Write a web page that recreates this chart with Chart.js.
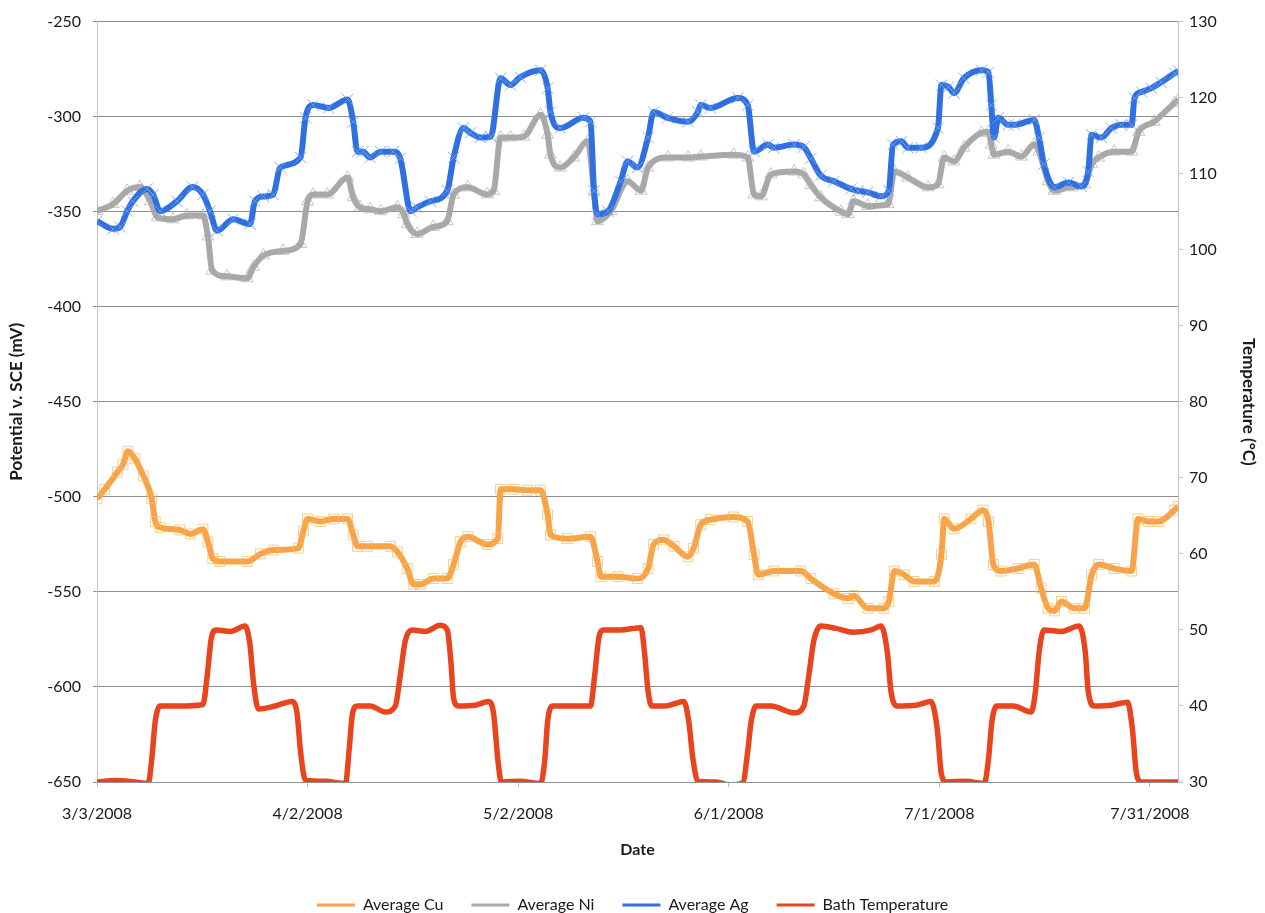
<!DOCTYPE html>
<html>
<head>
<meta charset="utf-8">
<script src="https://cdn.jsdelivr.net/npm/chart.js@4.4.1/dist/chart.umd.min.js"></script>
<style>
html,body{margin:0;padding:0;background:#fff;}
#wrap{width:1265px;height:913px;}
</style>
</head>
<body>
<div id="wrap"><canvas id="c" width="1265" height="913"></canvas></div>
<script>
// X axis tick labels (every 30 days from 3/3/2008)
const xTickLabels = ["3/3/2008","4/2/2008","5/2/2008","6/1/2008","7/1/2008","7/31/2008"];
const xTickDays = [0,30,60,90,120,150];

// Average Cu (mV) — day offsets from 3/3/2008
const cuDays = [0.0,1.1,2.9,3.7,4.4,5.4,6.6,7.8,8.3,9.0,11.8,13.3,15.1,15.8,16.5,17.5,21.4,23.3,25.1,28.7,29.4,30.0,31.8,33.7,35.7,36.5,37.1,38.5,41.8,42.8,44.2,45.1,46.1,47.9,49.9,50.8,51.8,52.8,55.6,57.1,57.5,59.3,61.3,63.2,64.2,64.6,67.0,70.3,71.3,71.8,74.2,77.0,78.5,79.3,80.7,82.2,84.2,85.0,86.0,87.4,90.7,92.7,93.6,94.2,96.4,100.3,101.7,105.0,107.0,107.8,109.8,112.1,112.8,113.6,115.0,116.4,119.3,120.3,120.7,122.1,124.5,126.2,127.0,127.7,128.8,131.2,133.5,134.5,135.5,136.4,137.4,139.2,140.7,141.7,142.7,144.9,147.4,148.3,149.8,151.2,153.5,154.1];
const cuValues = [-501,-496,-487,-483,-476,-480,-489,-501,-513,-516,-517.4,-519.5,-517,-523.6,-532.5,-534,-534,-530,-528,-527,-518,-511.6,-513,-511.6,-511.6,-520,-526,-526,-526,-529,-537.7,-546,-546,-543,-543,-535.6,-523.6,-521,-525,-522,-496,-496,-496.5,-496.5,-509.5,-520,-522,-521,-534,-542,-542,-543,-537.7,-525,-522.6,-526,-531.5,-527,-514.7,-512,-510.6,-513,-530.4,-541,-539,-539,-543,-551,-553.4,-552,-558.6,-558.6,-555,-539,-541,-544.5,-544.5,-530.4,-511.6,-516.8,-511.6,-507,-513,-535.6,-539,-537.7,-535.6,-548,-558.6,-560,-555,-558.6,-558.6,-541,-535.6,-537.7,-539,-511.6,-513,-513,-507,-505];

// Average Ni (mV)
const niDays = [0.0,2.3,4.3,6.1,7.6,8.6,10.8,12.8,15.1,15.8,16.4,18.5,21.4,22.3,23.7,26.5,29.0,30.0,30.8,32.8,35.7,36.5,37.5,38.9,40.4,42.8,43.7,44.2,45.6,47.9,49.9,50.8,52.8,55.6,56.5,57.5,58.9,60.8,63.2,64.2,64.6,66.0,67.9,69.9,70.8,71.3,73.2,75.6,77.5,78.5,81.3,84.2,86.0,90.7,92.7,93.6,94.6,96.0,99.3,100.7,101.7,103.1,106.0,107.0,107.8,109.8,112.7,113.6,115.5,118.4,119.8,120.7,122.1,123.5,126.0,127.0,127.4,127.8,129.8,131.7,133.5,134.2,135.5,136.4,138.4,140.7,141.7,142.7,144.9,147.4,148.4,150.6,153.5,154.1];
const niValues = [-349.7,-346,-339,-337,-344.5,-353,-354,-352,-352,-363,-381,-384,-385,-379,-373,-370.6,-367,-344.5,-341,-341,-332,-342.4,-347.7,-348.7,-349.7,-347.7,-351.3,-356.5,-361.7,-358,-355,-341,-337.2,-340.9,-339,-311,-311,-310.5,-299,-309.5,-320,-326.8,-321.5,-313,-339,-355,-349.7,-334,-339,-326.8,-321.5,-321.5,-321,-320,-321.5,-340.9,-341.9,-330.4,-328.9,-330.4,-336,-342.4,-350,-351.3,-344.5,-347,-346,-328.9,-332,-337.2,-335.6,-321.5,-323.6,-316.3,-308.5,-308,-314.7,-320,-318.4,-321,-314.7,-318.4,-334,-339,-337.2,-335.6,-325,-321.5,-318.4,-318.4,-308,-302.7,-292.8,-291];

// Average Ag (mV)
const agDays = [0.0,2.3,3.3,4.3,5.1,7.1,8.0,9.0,11.4,13.6,15.1,16.1,17.1,19.4,21.8,22.5,23.7,25.1,26.1,29.0,29.7,30.8,33.0,35.7,36.5,37.1,37.9,38.9,40.4,42.2,43.2,44.7,45.6,47.5,49.9,50.8,52.2,53.2,54.6,56.1,57.5,58.9,60.3,63.2,64.2,64.6,66.0,69.3,70.3,70.8,71.3,72.8,74.6,75.6,77.0,78.5,79.3,81.3,84.2,85.6,86.0,87.4,91.3,92.7,93.6,95.6,96.4,99.3,100.7,101.7,103.1,105.0,107.4,108.4,109.8,111.7,112.8,113.4,114.6,115.5,117.4,119.8,120.3,121.3,122.1,123.5,126.0,127.0,127.4,127.8,128.4,129.8,130.7,133.5,134.2,134.9,136.4,138.4,140.2,141.2,141.7,143.1,144.5,145.9,147.4,147.8,148.8,150.2,151.6,153.5,154.1];
const agValues = [-355,-359,-358,-349.7,-344.5,-338,-341,-349.7,-344.5,-337,-341,-349.7,-360,-354,-356.5,-344.5,-342,-341,-326.8,-321.5,-300.6,-293.9,-295.4,-291,-302.7,-318.4,-318.4,-321.5,-318.4,-318.4,-322,-349.7,-347.7,-344.5,-339,-321.5,-306,-308.5,-311,-310.5,-279.8,-283.4,-279.2,-275.6,-285,-297.5,-306,-300.6,-302.7,-339,-351.3,-349.7,-334,-323.6,-326.8,-311,-297.5,-300.6,-302.7,-297.5,-293.9,-295.4,-290.2,-293.9,-318.4,-314.7,-316.3,-314.7,-316,-322,-331,-334,-338,-339,-339.8,-341.9,-339,-314.7,-313,-316.3,-316.3,-306,-283.4,-284.4,-287.6,-279.8,-275.6,-276.6,-293.9,-311,-300.6,-304.3,-304.3,-301.7,-311,-325,-337.2,-334.6,-336.7,-328.9,-309.5,-311,-306,-304.3,-304.3,-290.2,-287,-285,-281.9,-277.2,-276];

// Bath Temperature (°C)
const tempDays = [0,2.6,5.4,7.3,7.8,8.3,9.0,11.8,15.1,15.7,16.3,17.0,19.0,21.1,21.8,22.3,23.0,25.4,27.8,28.5,29.0,29.7,32.5,35.4,35.9,36.4,37.1,38.9,41.1,42.5,43.2,43.9,44.9,46.8,48.9,49.9,50.4,50.8,51.5,53.9,55.8,56.5,57.1,57.6,60.3,63.2,63.8,64.2,64.9,67.5,70.3,70.9,71.5,72.2,74.6,77.5,78.0,78.5,79.0,81.0,83.6,84.3,84.9,85.6,88.2,90.3,92.0,92.7,93.2,93.9,96.0,99.3,100.7,101.4,102.1,103.1,105.3,107.7,110.3,111.7,112.6,113.1,114.0,116.7,118.8,119.7,120.3,121.0,123.8,126.4,127.0,127.5,128.2,130.5,133.1,133.7,134.2,134.9,137.4,139.9,140.8,141.2,142.1,144.5,146.8,147.5,148.1,148.8,151.6,154];
const tempValues = [30,30.2,30,29.8,33,38,40,40,40.2,44,49,50,49.8,50.5,48,43,39.6,40,40.6,39,34,30.2,30.1,29.8,34,39,40,40,39.2,40,44,48.5,50,49.8,50.6,50,46,41,40,40.1,40.6,39,33,30,30.1,29.8,33,38,40,40,40,44,49,50,50,50.3,47,42,40,40,40.6,38,33,30.1,30,29.6,29.9,34,38,40,40,39.1,40,44,48.5,50.5,50.2,49.7,50,50.5,47,42,40,40.1,40.6,37,31,30,30.1,29.8,33,38,40,40,39.2,42,47,50,49.8,50.5,47,42,40,40.1,40.5,37,31,30,30,30];

const seriesNames = ["Average Cu","Average Ni","Average Ag","Bath Temperature"];

function pts(xs, ys){ return xs.map((x,i)=>({x:x, y:ys[i]})); }

const CHART_BOTTOM = 782;
const PAD_B = -10;

Chart.defaults.font.family = "Lato, 'Open Sans', sans-serif";
Chart.defaults.color = "#1a1a1a";

new Chart(document.getElementById('c'), {
  type: 'line',
  data: {
    datasets: [
      {
        label: seriesNames[0], data: pts(cuDays, cuValues), yAxisID: 'y',
        borderColor: '#f8a24a', backgroundColor: '#f8a24a', borderWidth: 6,
        cubicInterpolationMode: 'monotone',
        pointStyle: 'rect', pointRadius: 7, pointBorderWidth: 1,
        pointBorderColor: 'rgba(245,185,80,0.7)', pointBackgroundColor: 'rgba(0,0,0,0)',
        order: 3
      },
      {
        label: seriesNames[1], data: pts(niDays, niValues), yAxisID: 'y',
        borderColor: '#a8a8a8', backgroundColor: '#a8a8a8', borderWidth: 6,
        cubicInterpolationMode: 'monotone',
        pointStyle: 'triangle', pointRadius: 7, pointBorderWidth: 1,
        pointBorderColor: 'rgba(175,175,175,0.7)', pointBackgroundColor: 'rgba(0,0,0,0)',
        order: 2
      },
      {
        label: seriesNames[2], data: pts(agDays, agValues), yAxisID: 'y',
        borderColor: '#2f6fe0', backgroundColor: '#2f6fe0', borderWidth: 6,
        cubicInterpolationMode: 'monotone',
        pointStyle: 'crossRot', pointRadius: 8, pointBorderWidth: 1,
        pointBorderColor: 'rgba(110,165,240,0.85)', pointBackgroundColor: 'rgba(0,0,0,0)',
        order: 1
      },
      {
        label: seriesNames[3], data: pts(tempDays, tempValues), yAxisID: 'y2',
        borderColor: '#e8441e', backgroundColor: '#e8441e', borderWidth: 5.5,
        cubicInterpolationMode: 'monotone',
        pointRadius: 0, order: 0
      }
    ]
  },
  options: {
    responsive: false,
    animation: false,
    layout: { padding: { top: 16, left: 0, right: 0, bottom: PAD_B } },
    plugins: {
      tooltip: { enabled: false },
      legend: {
        position: 'bottom',
        labels: {
          generateLabels: (chart) => Chart.defaults.plugins.legend.labels.generateLabels(chart)
            .map(l => Object.assign(l, { lineWidth: 0 })),
          sort: (a,b) => a.datasetIndex - b.datasetIndex,
          boxWidth: 38, boxHeight: 3, padding: 28,
          font: { size: 16 }, color: '#1a1a1a'
        }
      }
    },
    scales: {
      x: {
        type: 'linear', min: 0, max: 154,
        afterBuildTicks: (s) => { s.ticks = xTickDays.map(v => ({ value: v })); },
        afterFit: (s) => { s.height = 913 - PAD_B - s.chart.legend.height - CHART_BOTTOM; },
        ticks: {
          callback: (v) => { const i = xTickDays.indexOf(v); return i >= 0 ? xTickLabels[i] : ''; },
          font: { size: 16 }, padding: 17, maxRotation: 0, autoSkip: false
        },
        grid: { drawOnChartArea: false, drawTicks: true, tickLength: 5, color: '#bdbdbd' },
        border: { display: true, color: '#8f8f8f' },
        title: { display: true, text: 'Date', font: { size: 16, weight: 'bold' }, padding: { top: 0, bottom: 10 } }
      },
      y: {
        position: 'left', min: -650, max: -250,
        ticks: { stepSize: 50, font: { size: 16 }, padding: 12 },
        afterFit: (s) => { s.width = 97; },
        grid: { color: '#8f8f8f', lineWidth: 1, tickLength: 4 },
        border: { display: true, color: '#c4c4c4' },
        title: { display: true, text: 'Potential v. SCE (mV)', font: { size: 17, weight: 'bold' }, padding: { top: 6, bottom: 0 } }
      },
      y2: {
        position: 'right', min: 30, max: 130,
        ticks: { stepSize: 10, font: { size: 16 }, padding: 6 },
        afterFit: (s) => { s.width = 87; },
        grid: { drawOnChartArea: false, drawTicks: true, tickLength: 5, color: '#c4c4c4' },
        border: { display: true, color: '#c4c4c4' },
        title: { display: true, text: 'Temperature (°C)', font: { size: 17, weight: 'bold' }, padding: { top: 6, bottom: 0 } }
      }
    }
  }
});
</script>
</body>
</html>
